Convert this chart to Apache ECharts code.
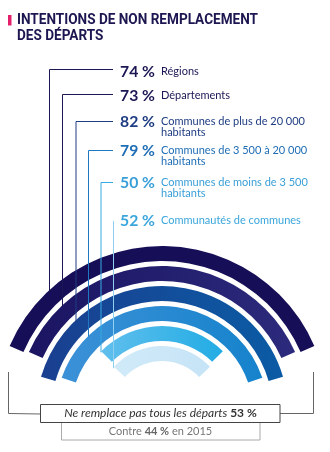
<!DOCTYPE html>
<html><head><meta charset="utf-8">
<script src="https://cdn.jsdelivr.net/npm/echarts@6/dist/echarts.min.js"></script>
<style>html,body{margin:0;padding:0;background:#fff}#c{width:330px;height:452px}</style>
</head><body><div id="c"></div>
<script>
// ---- data ----
const titleLines = ['INTENTIONS DE NON REMPLACEMENT', 'DES DÉPARTS'];
const categories = ['Régions', 'Départements', 'Communes de plus de 20 000 habitants', 'Communes de 3 500 à 20 000 habitants', 'Communes de moins de 3 500 habitants', 'Communautés de communes'];
const labelLines = [['Régions'], ['Départements'], ['Communes de plus de 20 000', 'habitants'], ['Communes de 3 500 à 20 000', 'habitants'], ['Communes de moins de 3 500', 'habitants'], ['Communautés de communes']];
const values = [74, 73, 82, 79, 50, 52];
const totalLabel = 'Ne remplace pas tous les départs';
const totalValue = 53;
const prevLabelBefore = 'Contre';
const prevValue = 44;
const prevYear = 2015;

// ---- styles / layout ----
const cx = 162, cy = 412;
const ringColors = [['#160f57', '#160f57'], ['#1b1562', '#2c2a7c'], ['#1a3f90', '#0b5ba4'], ['#3c91d7', '#1583cc'], ['#60bfed', '#22ace4'], ['#d0eaf8', '#c6e4f7']];
const textColors = ['#1b1654', '#1b1654', '#1e3c82', '#1f6db5', '#3a9fd8', '#3aa6dc'];
const lineColors = ['#1b1654', '#1b1654', '#1e3c82', '#2078c0', '#36aae2', '#8fd0f0'];
const rowY = [72, 95.5, 121.5, 151, 183.3, 220.5];
const lineY = [69.5, 94.5, 121.5, 150.5, 182.5, 221];
const lineX = [49.5, 62.5, 76, 88.5, 101, 113.5];
const ringOuter = [166, 146, 126, 106, 86, 66];

const mctx = document.createElement('canvas').getContext('2d');
function textW(t, f) { mctx.font = f; return mctx.measureText(t).width; }

const titleFont = 'bold 15px Roboto';
const titleScale = Math.min(1, 241 / textW(titleLines[0], titleFont));
const pctFont = 'bold 16px Lato';
const pctScale = Math.min(1, 35 / textW('74 %', pctFont));
const labelSize = Math.min(12, 11.5 * 144 / textW(labelLines[2][0], '11.5px Lato'));
const labelFont = labelSize.toFixed(2) + 'px Lato';

const chart = echarts.init(document.getElementById('c'), null, {renderer: 'canvas'});

const rev = values.slice().reverse();
const revColors = ringColors.slice().reverse();

const graphic = [];
// title
graphic.push({type: 'rect', shape: {x: 8, y: 15, width: 3.5, height: 10.5}, style: {fill: '#e5206a'}});
titleLines.forEach((t, i) => graphic.push({type: 'text', x: 17, y: 20.5 + i * 16, scaleX: titleScale,
  style: {text: t, x: 0, y: 0, font: titleFont, fill: '#1c1651', verticalAlign: 'middle'}}));
// labels
values.forEach((v, i) => {
  graphic.push({type: 'text', x: 155, y: rowY[i], scaleX: pctScale,
    style: {text: v + ' %', x: 0, y: 0, font: pctFont, fill: textColors[i], align: 'right', verticalAlign: 'middle'}});
  graphic.push({type: 'text', style: {text: labelLines[i].join('\n'), x: 161, y: rowY[i] - 6, font: labelFont, lineHeight: 11, fill: textColors[i], align: 'left', verticalAlign: 'top'}});
  const x = lineX[i];
  const yEnd = cy - Math.sqrt(ringOuter[i] * ringOuter[i] - (cx - x) * (cx - x)) + 1;
  const pts = i < 5 ? [[113, lineY[i]], [x, lineY[i]], [x, yEnd]] : [[x, lineY[i]], [x, yEnd]];
  graphic.push({type: 'polyline', z: 100, shape: {points: pts}, style: {stroke: lineColors[i], lineWidth: 1, fill: null}});
});
// bottom brackets and boxes
graphic.push({type: 'polyline', shape: {points: [[8.5, 372], [8.5, 413.5], [41, 414]]}, style: {stroke: '#666', lineWidth: 1, fill: null}});
graphic.push({type: 'polyline', shape: {points: [[313.5, 372], [313.5, 413.5], [280, 413.5]]}, style: {stroke: '#666', lineWidth: 1, fill: null}});
graphic.push({type: 'rect', shape: {x: 61.5, y: 422.5, width: 198.5, height: 17.5}, style: {fill: '#fff', stroke: '#aaa', lineWidth: 1}});
graphic.push({type: 'rect', shape: {x: 40.5, y: 404.5, width: 239.5, height: 18}, style: {fill: '#fff', stroke: '#444', lineWidth: 1}});
graphic.push({type: 'text', style: {text: '{i|' + totalLabel + ' }{b|' + totalValue + ' %}', x: 160.5, y: 413.5, align: 'center', verticalAlign: 'middle',
  rich: {i: {font: 'italic 12px Lato', fill: '#333'}, b: {font: 'bold 12px Lato', fill: '#333'}}}});
graphic.push({type: 'text', style: {text: '{n|' + prevLabelBefore + ' }{b|' + prevValue + ' %}{n| en ' + prevYear + '}', x: 160.5, y: 431.5, align: 'center', verticalAlign: 'middle',
  rich: {n: {font: '11px Lato', fill: '#777'}, b: {font: 'bold 11px Lato', fill: '#666'}}}});

chart.setOption({
  animation: false,
  polar: {center: [cx, cy], radius: [48.5, 168.5]},
  angleAxis: {type: 'value', min: 0, max: 200, startAngle: 180, clockwise: true, show: false},
  radiusAxis: {type: 'category', data: categories.slice().reverse(), show: false},
  series: [
    {type: 'bar', coordinateSystem: 'polar', stack: 's', barWidth: 15, silent: true,
     data: rev.map(v => (100 - v) / 2), itemStyle: {color: 'rgba(0,0,0,0)'}},
    {type: 'bar', coordinateSystem: 'polar', stack: 's', barWidth: 15,
     data: rev.map((v, i) => ({value: v, itemStyle: {color: new echarts.graphic.LinearGradient(0, 0, 1, 0, [{offset: 0, color: revColors[i][0]}, {offset: 1, color: revColors[i][1]}])}}))}
  ],
  graphic: graphic
});
</script></body></html>
